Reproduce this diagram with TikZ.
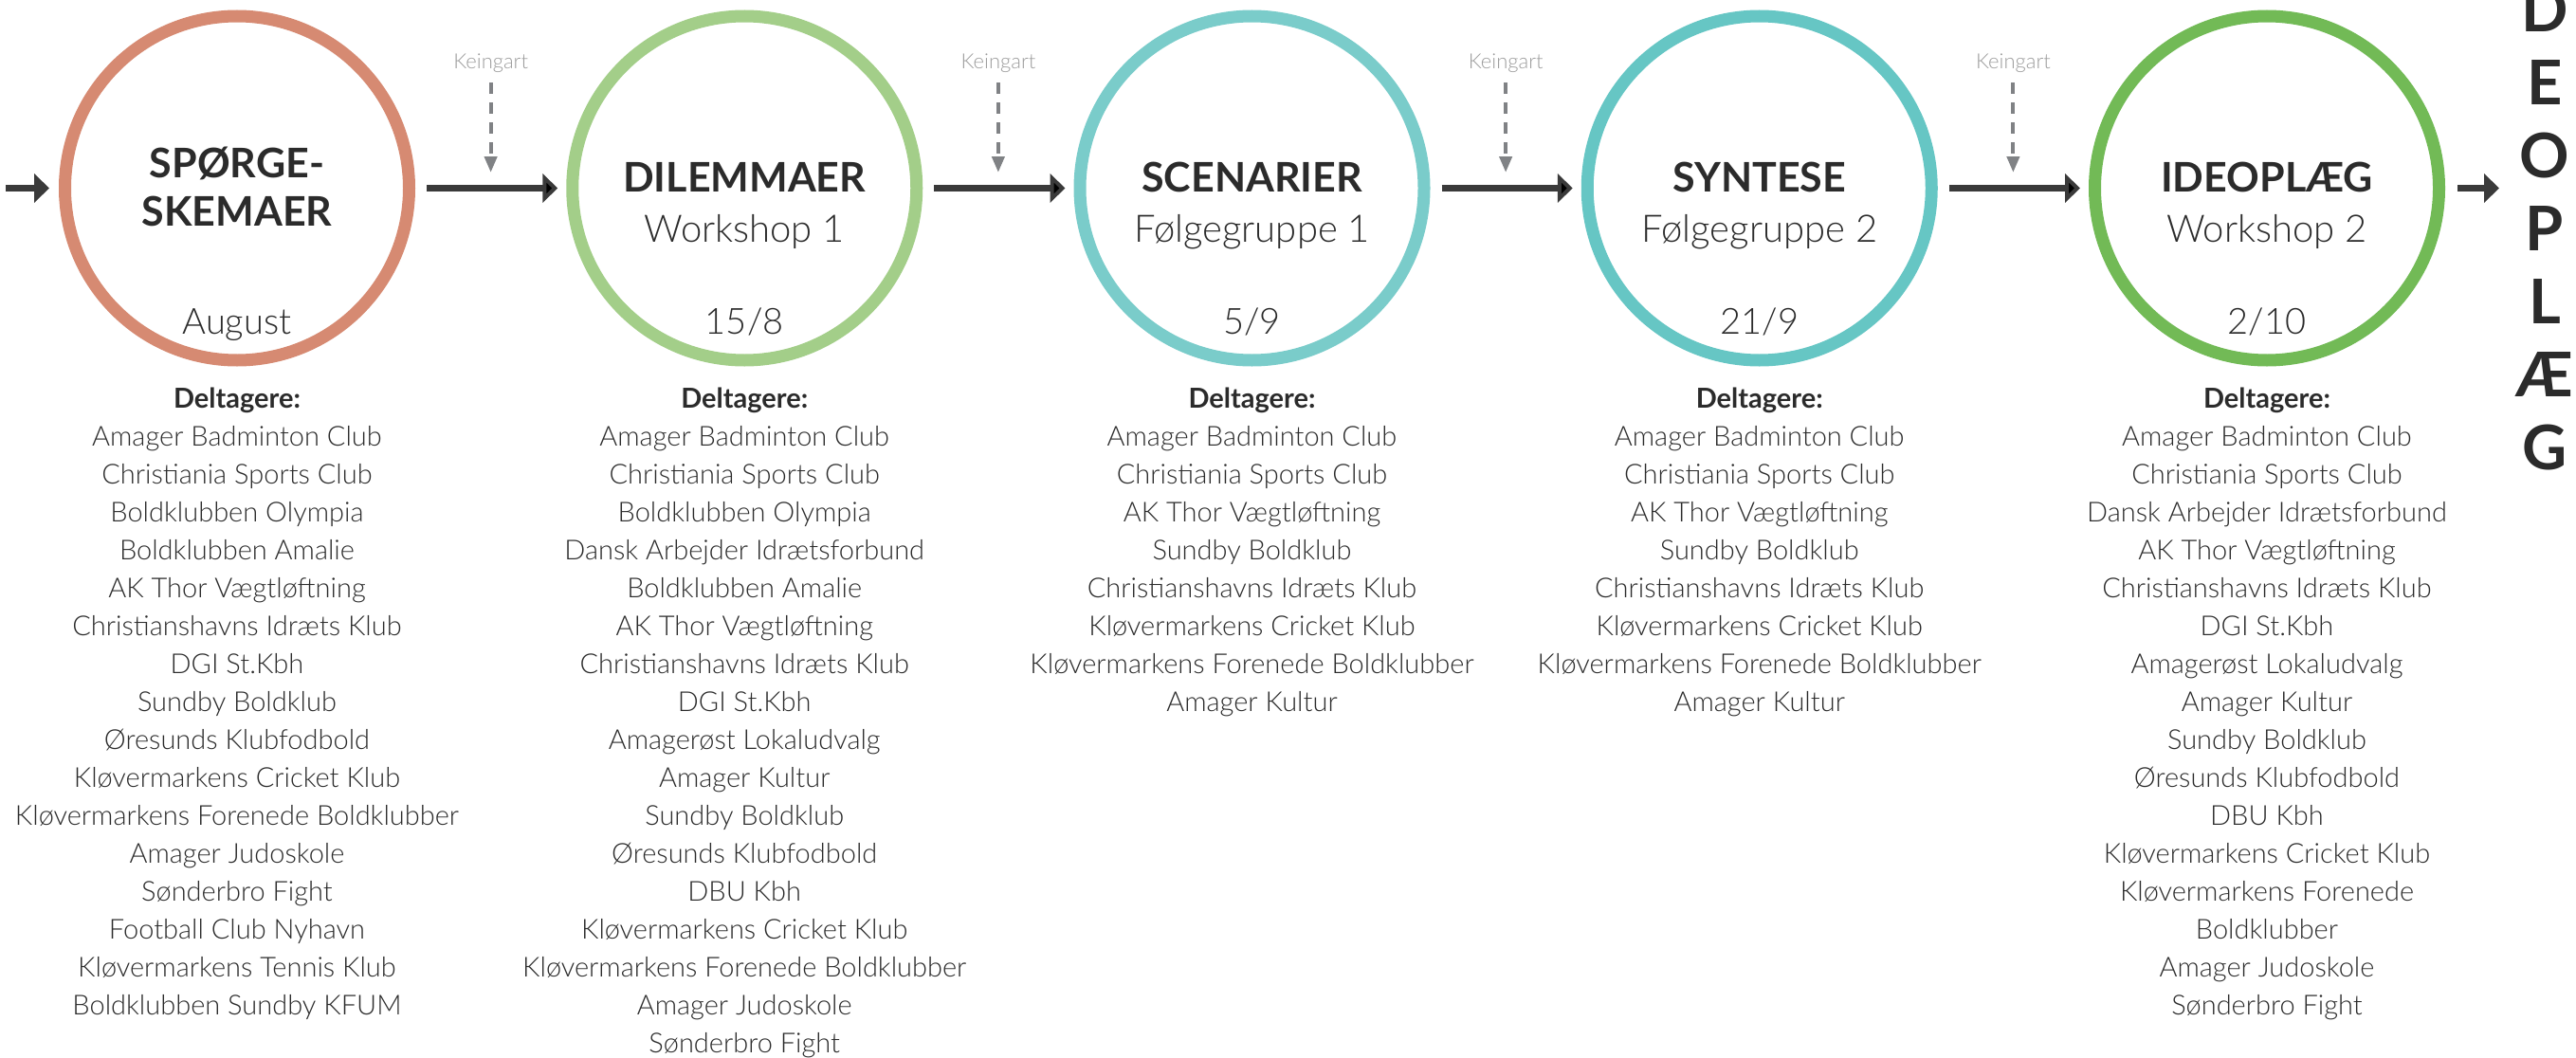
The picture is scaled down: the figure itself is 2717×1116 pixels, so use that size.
\documentclass[tikz,border=0pt]{standalone}
\usepackage{fontspec}
\setmainfont{Lato}[UprightFont=* Light,BoldFont=* Bold]
\usetikzlibrary{arrows.meta}

\definecolor{salmon}{HTML}{D68A72}
\definecolor{leaf}{HTML}{A3CE89}
\definecolor{lagoon}{HTML}{7ACCCA}
\definecolor{teal2}{HTML}{66C6C4}
\definecolor{grass}{HTML}{72BA56}
\definecolor{ink}{HTML}{2B2B2B}
\definecolor{arrowgray}{HTML}{3A3A3A}
\definecolor{hinttext}{HTML}{9B9B9B}
\definecolor{hintline}{HTML}{808285}

\begin{document}
\begin{tikzpicture}[x=1pt,y=1pt,node distance=535.25pt,
                    main node/.style={circle,draw,line width=13pt,minimum size=363pt,inner sep=0pt},
                    flow/.style={-{Triangle[length=16pt,width=30pt]},line width=7pt,draw=arrowgray,
                                 shorten <=12pt,shorten >=9pt},
                    hintarrow/.style={-{Triangle[length=17pt,width=13pt]},line width=4pt,draw=hintline,
                                 dash pattern=on 12pt off 9pt,shorten <=10pt,shorten >=16.5pt},
                    hint/.style={font=\fontsize{22}{26}\selectfont,text=hinttext,inner sep=0pt},
                    phasename/.style={font=\bfseries\fontsize{43}{51}\selectfont,text=ink,align=center,inner sep=0pt},
                    phasesub/.style={font=\fontsize{40}{48}\selectfont,text=ink,inner sep=0pt,anchor=base},
                    phasedate/.style={font=\fontsize{38}{46}\selectfont,text=ink,inner sep=0pt,anchor=base},
                    members/.style={font=\fontsize{29}{40}\selectfont,text=ink,align=center,anchor=north,inner sep=0pt},
                    word/.style={font=\bfseries\fontsize{65}{77}\selectfont,text=ink,align=center,inner sep=0pt}]
    \useasboundingbox (0,0) rectangle (2717,-1116);

    \node[main node,draw=salmon] (spoerge) at (250,-198.5) {};
    \node[main node,draw=leaf] (dilemma) [right of=spoerge] {};
    \node[main node,draw=lagoon] (scenarie) [right of=dilemma] {};
    \node[main node,draw=teal2] (syntese) [right of=scenarie] {};
    \node[main node,draw=grass] (idea) [right of=syntese] {};

    \node[phasename] (spoerge-t) at ([yshift=1.5pt]spoerge) {SPØRGE-\\SKEMAER};
    \node[phasename,anchor=base] (dilemma-t) at ([yshift=-3.5pt]dilemma) {DILEMMAER};
    \node[phasename,anchor=base] (scenarie-t) at ([yshift=-3.5pt]scenarie) {SCENARIER};
    \node[phasename,anchor=base] (syntese-t) at ([yshift=-3.5pt]syntese) {SYNTESE};
    \node[phasename,anchor=base] (idea-t) at ([yshift=-3.5pt]idea) {IDEOPLÆG};

    \node[phasesub] (dilemma-s) at ([yshift=-56.5pt]dilemma) {Workshop 1};
    \node[phasesub] (scenarie-s) at ([yshift=-56.5pt]scenarie) {Følgegruppe 1};
    \node[phasesub] (syntese-s) at ([yshift=-56.5pt]syntese) {Følgegruppe 2};
    \node[phasesub] (idea-s) at ([yshift=-56.5pt]idea) {Workshop 2};

    \node[phasedate] (spoerge-d) at ([yshift=-153.5pt]spoerge) {August};
    \node[phasedate] (dilemma-d) at ([yshift=-153.5pt]dilemma) {15/8};
    \node[phasedate] (scenarie-d) at ([yshift=-153.5pt]scenarie) {5/9};
    \node[phasedate] (syntese-d) at ([yshift=-153.5pt]syntese) {21/9};
    \node[phasedate] (idea-d) at ([yshift=-153.5pt]idea) {2/10};

    \coordinate (in) at (6,-198.5);
    \coordinate (out) at (2636,-198.5);
    \draw[flow,shorten <=0pt,shorten >=10pt] (in) -- (spoerge);
    \path[flow]
        (spoerge) edge (dilemma)
        (dilemma) edge (scenarie)
        (scenarie) edge (syntese)
        (syntese) edge (idea);
    \draw[flow,shorten <=13pt,shorten >=0pt] (idea) -- (out);

    \node[hint] (kg1) [right of=spoerge,node distance=267.625pt,yshift=131.5pt] {Keingart};
    \node[hint] (kg2) [right of=dilemma,node distance=267.625pt,yshift=131.5pt] {Keingart};
    \node[hint] (kg3) [right of=scenarie,node distance=267.625pt,yshift=131.5pt] {Keingart};
    \node[hint] (kg4) [right of=syntese,node distance=267.625pt,yshift=131.5pt] {Keingart};
    \draw[hintarrow] (kg1) -- (kg1 |- spoerge);
    \draw[hintarrow] (kg2) -- (kg2 |- dilemma);
    \draw[hintarrow] (kg3) -- (kg3 |- scenarie);
    \draw[hintarrow] (kg4) -- (kg4 |- syntese);

    \node[members] (spoerge-m) at ([yshift=-210.5pt]spoerge) {\textbf{Deltagere:}\\
        Amager Badminton Club\\Christiania Sports Club\\Boldklubben Olympia\\Boldklubben Amalie\\
        AK Thor Vægtløftning\\Christianshavns Idræts Klub\\DGI St.Kbh\\Sundby Boldklub\\
        Øresunds Klubfodbold\\Kløvermarkens Cricket Klub\\Kløvermarkens Forenede Boldklubber\\
        Amager Judoskole\\Sønderbro Fight\\Football Club Nyhavn\\Kløvermarkens Tennis Klub\\
        Boldklubben Sundby KFUM};
    \node[members] (dilemma-m) at ([yshift=-210.5pt]dilemma) {\textbf{Deltagere:}\\
        Amager Badminton Club\\Christiania Sports Club\\Boldklubben Olympia\\Dansk Arbejder Idrætsforbund\\
        Boldklubben Amalie\\AK Thor Vægtløftning\\Christianshavns Idræts Klub\\DGI St.Kbh\\
        Amagerøst Lokaludvalg\\Amager Kultur\\Sundby Boldklub\\Øresunds Klubfodbold\\DBU Kbh\\
        Kløvermarkens Cricket Klub\\Kløvermarkens Forenede Boldklubber\\Amager Judoskole\\
        Sønderbro Fight};
    \node[members] (scenarie-m) at ([yshift=-210.5pt]scenarie) {\textbf{Deltagere:}\\
        Amager Badminton Club\\Christiania Sports Club\\AK Thor Vægtløftning\\Sundby Boldklub\\
        Christianshavns Idræts Klub\\Kløvermarkens Cricket Klub\\Kløvermarkens Forenede Boldklubber\\
        Amager Kultur};
    \node[members] (syntese-m) at ([yshift=-210.5pt]syntese) {\textbf{Deltagere:}\\
        Amager Badminton Club\\Christiania Sports Club\\AK Thor Vægtløftning\\Sundby Boldklub\\
        Christianshavns Idræts Klub\\Kløvermarkens Cricket Klub\\Kløvermarkens Forenede Boldklubber\\
        Amager Kultur};
    \node[members] (idea-m) at ([yshift=-210.5pt]idea) {\textbf{Deltagere:}\\
        Amager Badminton Club\\Christiania Sports Club\\Dansk Arbejder Idrætsforbund\\
        AK Thor Vægtløftning\\Christianshavns Idræts Klub\\DGI St.Kbh\\Amagerøst Lokaludvalg\\
        Amager Kultur\\Sundby Boldklub\\Øresunds Klubfodbold\\DBU Kbh\\Kløvermarkens Cricket Klub\\
        Kløvermarkens Forenede\\Boldklubber\\Amager Judoskole\\Sønderbro Fight};

    \node[word] (output) [right of=idea,node distance=293pt,yshift=212.5pt,anchor=north] {D\\E\\O\\P\\L\\Æ\\G};
\end{tikzpicture}
\end{document}
